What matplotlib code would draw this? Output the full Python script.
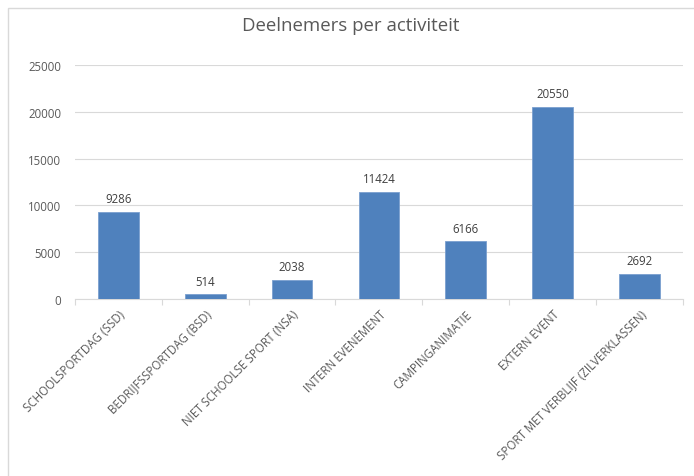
import matplotlib
matplotlib.use("Agg")
import matplotlib.pyplot as plt
from matplotlib.patches import Rectangle

categories = ["SCHOOLSPORTDAG (SSD)", "BEDRIJFSSPORTDAG (BSD)", "NIET SCHOOLSE SPORT (NSA)",
              "INTERN EVENEMENT", "CAMPINGANIMATIE", "EXTERN EVENT",
              "SPORT MET VERBLIJF (ZILVERKLASSEN)"]
values = [9286, 514, 2038, 11424, 6166, 20550, 2692]
yticks = [0, 5000, 10000, 15000, 20000, 25000]

plt.rcParams['font.family'] = ['Open Sans', 'DejaVu Sans']
txt = '#595959'

fig = plt.figure(figsize=(6.94, 4.77), dpi=100)
ax = fig.add_axes([0.108, 0.371, 0.876, 0.491])

x = list(range(len(categories)))
bars = ax.bar(x, values, width=0.47, color='#4F81BD', edgecolor='#7A9FCF', linewidth=0.6, zorder=3)
for xi, v in zip(x, values):
    ax.text(xi, v + 700, str(v), ha='center', va='bottom', fontsize=8.3, color='#404040')

ax.set_xlim(-0.5, len(categories) - 0.5)
ax.set_ylim(0, 25000)
ax.set_yticks(yticks)
ax.set_yticklabels([str(t) for t in yticks], fontsize=8.3, color=txt)
ax.yaxis.grid(True, color='#D9D9D9', linewidth=0.8, zorder=0)
ax.tick_params(axis='y', length=0, pad=10)

ax.set_xticks([i - 0.5 for i in range(len(categories) + 1)], minor=False)
ax.set_xticklabels([''] * (len(categories) + 1))
ax.tick_params(axis='x', length=4, color='#D9D9D9', direction='out')
ax.set_xticks(x, minor=True)
ax.set_xticklabels(categories, minor=True, rotation=45, ha='right', va='top',
                   rotation_mode='anchor', fontsize=8.3, color=txt)
ax.tick_params(axis='x', which='minor', length=0, pad=6)

for s in ['top', 'right', 'left']:
    ax.spines[s].set_visible(False)
ax.spines['bottom'].set_color('#D9D9D9')

fig.text(0.505, 0.945, "Deelnemers per activiteit", ha='center', va='center',
         fontsize=13.4, color=txt)

fig.patches.append(Rectangle((8 / 694, -0.01), 0.99, (477 - 9) / 477 + 0.01,
                             transform=fig.transFigure, fill=False,
                             edgecolor='#D9D9D9', linewidth=1))

fig.savefig("out.png", dpi=100)
